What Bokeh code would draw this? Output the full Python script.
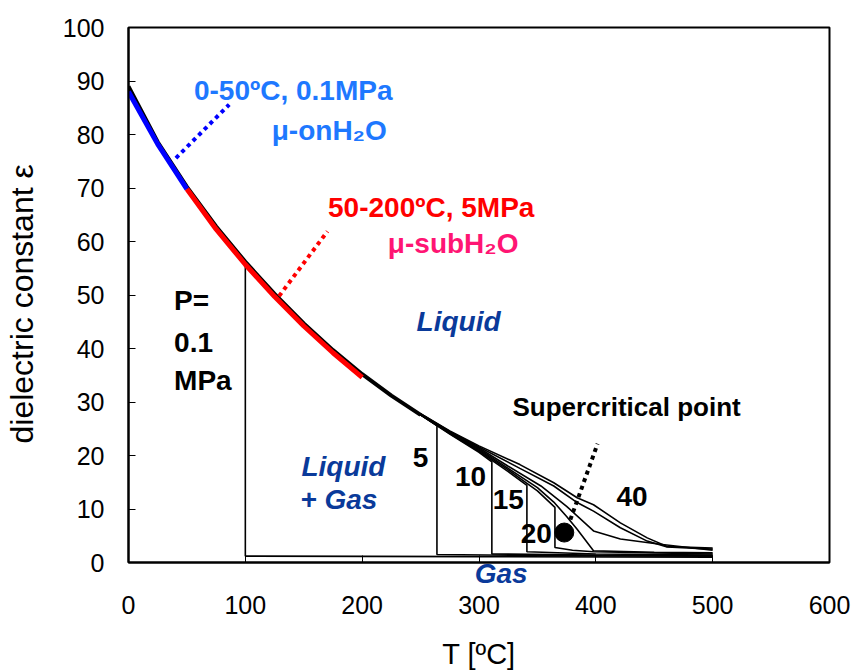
from bokeh.plotting import figure
from bokeh.models import Label, Range1d, FixedTicker, LinearAxis
from bokeh.embed import file_html
from bokeh.resources import INLINE

# ---- data ----
# liquid branch shared by all isobars up to 250 C
liq_T = [0, 25, 50, 75, 100, 125, 150, 175, 200, 225, 250]
liq_eps = [89.0, 78.6, 70.2, 62.8, 56.2, 50.2, 44.7, 39.7, 35.2, 31.2, 27.6]

# 0.1 MPa isobar: boiling at 100 C, then gas
p01_T = [100, 100, 300, 500]
p01_eps = [56.2, 1.2, 1.1, 1.0]

# tails of the higher-pressure isobars (from 250 C on)
p5_T = [250, 264, 264, 350, 500]
p5_eps = [27.6, 25.6, 1.5, 1.3, 1.2]
p10_T = [250, 275, 300, 311, 311, 400, 500]
p10_eps = [27.6, 24.0, 20.6, 18.8, 1.6, 1.4, 1.3]
p15_T = [250, 275, 300, 325, 341, 341, 400, 500]
p15_eps = [27.6, 24.1, 20.8, 17.0, 14.4, 2.0, 1.6, 1.4]
p20_T = [250, 275, 300, 325, 350, 365, 365, 380, 398, 500]
p20_eps = [27.6, 24.2, 21.0, 17.3, 13.4, 10.3, 2.8, 2.3, 2.0, 1.6]
p25_T = [250, 275, 300, 325, 350, 364, 375, 384, 398, 450, 500]
p25_eps = [27.7, 24.3, 21.2, 17.6, 14.0, 11.3, 8.6, 6.2, 2.2, 1.9, 1.8]
p30_T = [250, 275, 300, 325, 353, 375, 398, 421, 455, 500]
p30_eps = [27.7, 24.4, 21.4, 18.0, 14.3, 10.5, 5.9, 4.4, 3.4, 2.3]
p35_T = [250, 275, 300, 335, 364, 384, 398, 421, 444, 461, 500]
p35_eps = [27.8, 24.5, 21.6, 17.6, 14.3, 11.2, 9.6, 6.5, 4.0, 2.9, 2.5]
p40_T = [250, 275, 300, 335, 364, 384, 398, 421, 444, 461, 500]
p40_eps = [27.8, 24.6, 21.8, 18.3, 14.9, 12.1, 10.8, 7.4, 4.6, 3.0, 2.7]

# highlighted ranges
on_T = [0, 25, 50]
on_eps = [88.0, 78.2, 69.8]
sub_T = [50, 75, 100, 125, 150, 175, 200]
sub_eps = [69.8, 62.3, 55.7, 49.7, 44.2, 39.2, 34.6]

# leader lines (dotted)
on_lead_T = [40.6, 86.2]
on_lead_eps = [75.6, 85.6]
sub_lead_T = [128.9, 170.3]
sub_lead_eps = [49.8, 61.9]
sc_lead_T = [378.2, 401.5]
sc_lead_eps = [8.0, 22.2]

# supercritical point
sc_T = [373]
sc_eps = [5.6]

x_ticks = [0, 100, 200, 300, 400, 500, 600]
y_ticks = [0, 10, 20, 30, 40, 50, 60, 70, 80, 90, 100]
gas_pos = 319

# ---- figure ----
W, H = 855, 672
p = figure(width=W, height=H, output_backend="svg", toolbar_location=None,
           x_range=Range1d(0, 600), y_range=Range1d(0, 100),
           x_axis_location=None,
           min_border_left=127, min_border_right=W - 829,
           min_border_top=27, min_border_bottom=H - 563)
p.xgrid.visible = False
p.ygrid.visible = False
p.outline_line_color = "black"
p.outline_line_width = 2
p.background_fill_color = "white"
p.border_fill_color = "white"

FONT = "Liberation Sans"
NAVY = "#0A3A9A"

# axis next to the frame: tick marks inside + the "Gas" region label
gas_axis = LinearAxis(ticker=FixedTicker(ticks=[gas_pos], minor_ticks=x_ticks),
                      major_label_overrides={gas_pos: "Gas"})
gas_axis.axis_line_color = "black"
gas_axis.axis_line_width = 2
gas_axis.major_tick_line_color = None
gas_axis.minor_tick_in = 7
gas_axis.minor_tick_out = 0
gas_axis.minor_tick_line_color = "black"
gas_axis.minor_tick_line_width = 1
gas_axis.major_label_standoff = -11
gas_axis.major_label_text_font = FONT
gas_axis.major_label_text_font_size = "28px"
gas_axis.major_label_text_font_style = "bold italic"
gas_axis.major_label_text_color = NAVY
p.add_layout(gas_axis, "below")

# numeric x axis (labels only)
x_axis = LinearAxis(ticker=FixedTicker(ticks=x_ticks), axis_label="T [ºC]")
x_axis.axis_line_color = None
x_axis.major_tick_line_color = None
x_axis.minor_tick_line_color = None
x_axis.major_label_standoff = -2
x_axis.major_label_text_font = FONT
x_axis.major_label_text_font_size = "25px"
x_axis.major_label_text_color = "black"
x_axis.axis_label_text_font = FONT
x_axis.axis_label_text_font_size = "29px"
x_axis.axis_label_text_font_style = "normal"
x_axis.axis_label_text_color = "black"
x_axis.axis_label_standoff = 21
p.add_layout(x_axis, "below")

ya = p.yaxis[0]
ya.ticker = FixedTicker(ticks=y_ticks)
ya.axis_line_color = "black"
ya.axis_line_width = 2
ya.major_tick_in = 7
ya.major_tick_out = 0
ya.minor_tick_line_color = None
ya.major_tick_line_color = "black"
ya.major_tick_line_width = 1
ya.major_label_standoff = 24
ya.major_label_text_font = FONT
ya.major_label_text_font_size = "25px"
ya.major_label_text_color = "black"
ya.axis_label = "dielectric constant   ε"
ya.axis_label_text_font = FONT
ya.axis_label_text_font_size = "32px"
ya.axis_label_text_font_style = "normal"
ya.axis_label_text_color = "black"
ya.axis_label_standoff = 20

LW = 1.6
p.line(liq_T, liq_eps, line_color="black", line_width=4)
p.line(p01_T, p01_eps, line_color="black", line_width=LW)
for tT, tE in [(p5_T, p5_eps), (p10_T, p10_eps), (p15_T, p15_eps), (p20_T, p20_eps),
               (p25_T, p25_eps), (p30_T, p30_eps), (p35_T, p35_eps), (p40_T, p40_eps)]:
    p.line(tT, tE, line_color="black", line_width=LW)

p.line(on_T, on_eps, line_color="#0000FF", line_width=5)
p.line(sub_T, sub_eps, line_color="#FF0000", line_width=5)

p.line(on_lead_T, on_lead_eps, line_color="#0000FF", line_width=4, line_dash="4 4")
p.line(sub_lead_T, sub_lead_eps, line_color="#FF0000", line_width=4, line_dash="4 4")
p.line(sc_lead_T, sc_lead_eps, line_color="black", line_width=4, line_dash="4 4")

p.scatter(sc_T, sc_eps, size=19, marker="circle", fill_color="black", line_color="black")


def lab(x, y, text, color="black", size="28px", style="bold", align="left", base="middle"):
    p.add_layout(Label(x=x, y=y, text=text, text_color=color, text_font=FONT,
                       text_font_size=size, text_font_style=style,
                       text_align=align, text_baseline=base))


BLUE = "#1E78FF"
lab(56, 88.2, "0-50ºC, 0.1MPa", BLUE)
lab(122.6, 80.7, "μ-onH₂O", BLUE)
lab(170.8, 66.4, "50-200ºC, 5MPa", "#FF0000")
lab(222, 59.6, "μ-subH₂O", "#FF1573")
lab(39, 49, "P=")
lab(39, 41.1, "0.1")
lab(39, 34, "MPa")
lab(246.6, 45, "Liquid", NAVY, style="bold italic")
lab(148, 18, "Liquid", NAVY, style="bold italic")
lab(147, 11.8, "+ Gas", NAVY, style="bold italic")
lab(250, 19.6, "5", align="center")
lab(292.7, 16.1, "10", align="center")
lab(325, 11.8, "15", align="center")
lab(349, 5.4, "20", align="center")
lab(431, 12.3, "40", align="center")
lab(328.6, 29, "Supercritical point", size="26px")

open("out.html", "w").write(file_html(p, INLINE))
